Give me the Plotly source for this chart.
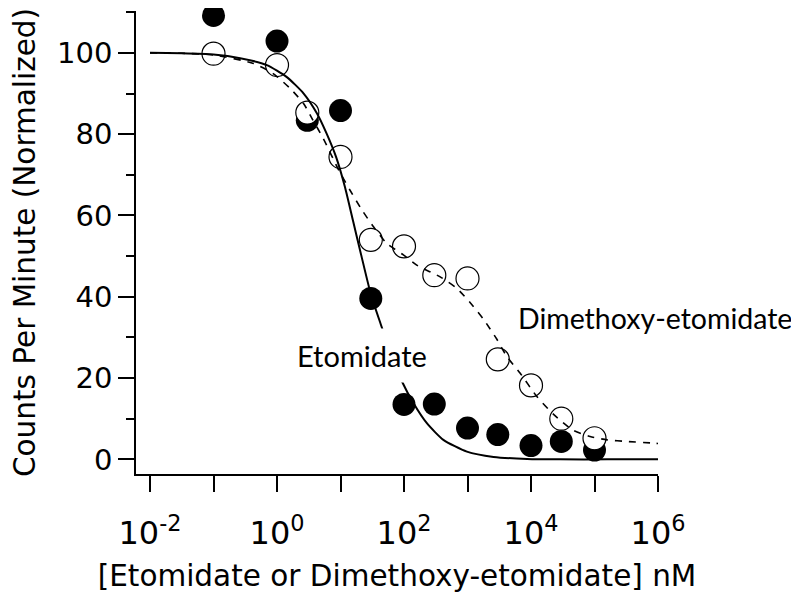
import numpy as np
import plotly.graph_objects as go

# Measured data (nM concentration, normalized CPM)
conc_nM = [0.1, 1, 3, 10, 30, 100, 300, 1000, 3000, 10000, 30000, 100000]
etomidate_cpm = [109.2, 102.9, 83.4, 85.8, 39.6, 13.5, 13.6, 7.7, 6.1, 3.4, 4.4, 2.3]
dimethoxy_cpm = [99.8, 97.0, 85.3, 74.4, 54.0, 52.4, 45.3, 44.5, 24.6, 18.2, 10.0, 5.2]

# Fitted curves (log10 concentration, normalized CPM)
etomidate_fit_logx = [-2.0, -1.5, -1.0, -0.58, -0.16, 0.15, 0.42, 0.63, 0.78, 0.93, 1.07,
                      1.20, 1.33, 1.48, 1.65, 1.80, 1.97, 2.15, 2.36, 2.62, 2.99, 3.41,
                      3.94, 4.46, 5.2, 6.0]
etomidate_fit_y = [100.0, 99.9, 99.6, 98.7, 97.0, 94.1, 90.0, 85.1, 80.2, 74.4, 67.0,
                   58.5, 50.0, 40.5, 32.5, 25.5, 19.1, 13.8, 8.9, 4.8, 1.9, 0.6,
                   0.1, 0.0, 0.0, 0.0]
dimethoxy_fit_logx = [-2.0, -1.5, -1.0, -0.37, -0.06, 0.21, 0.42, 0.55, 0.73, 0.97, 1.15,
                      1.34, 1.52, 1.73, 1.99, 2.22, 2.57, 2.83, 3.04, 3.25, 3.46, 3.62,
                      3.83, 4.09, 4.36, 4.65, 4.93, 5.20, 5.51, 5.93, 6.0]
dimethoxy_fit_y = [100.0, 99.9, 99.5, 97.4, 94.9, 91.2, 87.5, 83.9, 78.9, 71.2, 66.2,
                   61.3, 57.2, 53.1, 50.3, 47.6, 44.9, 42.1, 38.6, 34.5, 29.6, 25.3,
                   21.2, 15.5, 11.0, 7.3, 5.6, 4.8, 4.4, 4.0, 3.9]

x_tick_vals = [1e-2, 1e-1, 1e0, 1e1, 1e2, 1e3, 1e4, 1e5, 1e6]
x_tick_text = ["10<sup>-2</sup>", "", "10<sup>0</sup>", "", "10<sup>2</sup>", "",
               "10<sup>4</sup>", "", "10<sup>6</sup>"]
y_tick_vals = [0, 20, 40, 60, 80, 100]

fig = go.Figure()
fig.add_trace(go.Scatter(
    x=conc_nM, y=etomidate_cpm, mode="markers", name="Etomidate", cliponaxis=False,
    marker=dict(symbol="circle", size=23, color="black", line=dict(width=0)),
))
fig.add_trace(go.Scatter(
    x=conc_nM, y=dimethoxy_cpm, mode="markers", name="Dimethoxy-etomidate", cliponaxis=False,
    marker=dict(symbol="circle", size=23, color="white", line=dict(width=1.2, color="black")),
))
fig.add_trace(go.Scatter(
    x=np.power(10.0, etomidate_fit_logx), y=etomidate_fit_y, mode="lines",
    line=dict(color="black", width=2, shape="spline", smoothing=0.6),
))
fig.add_trace(go.Scatter(
    x=np.power(10.0, dimethoxy_fit_logx), y=dimethoxy_fit_y, mode="lines",
    line=dict(color="black", width=1.6, dash="7px,7px", shape="spline", smoothing=0.6),
))

axis_font = "DejaVu Sans"
fig.update_layout(
    width=791, height=595,
    margin=dict(l=128, r=141, t=3, b=129),
    paper_bgcolor="white", plot_bgcolor="white",
    showlegend=False,
    xaxis=dict(
        type="log", range=[-2.2206, 6.0], automargin=False,
        showline=True, linecolor="black", linewidth=1.5,
        ticks="outside", ticklen=16, tickwidth=1.5, tickcolor="black",
        tickvals=x_tick_vals, ticktext=x_tick_text,
        tickfont=dict(family=axis_font, size=32, color="black"),
        ticklabelstandoff=14,
        showgrid=False, zeroline=False,
        title=dict(text="[Etomidate or Dimethoxy-etomidate] nM",
                   font=dict(family=axis_font, size=29.5, color="black"), standoff=14),
    ),
    yaxis=dict(
        range=[-3.6, 110.3], automargin=False,
        showline=True, linecolor="black", linewidth=1.5,
        ticks="outside", ticklen=16, tickwidth=1.5, tickcolor="black",
        tickvals=y_tick_vals,
        minor=dict(dtick=10, tick0=0, ticks="outside", ticklen=8, tickwidth=1.5, tickcolor="black"),
        tickfont=dict(family=axis_font, size=29, color="black"),
        showgrid=False, zeroline=False,
        title=dict(text="Counts Per Minute (Normalized)",
                   font=dict(family=axis_font, size=29.5, color="black"), standoff=34),
    ),
    annotations=[
        dict(x=1.341, y=25.5, xref="x", yref="y", text="Etomidate", showarrow=False,
             font=dict(family="Lato", size=29, color="black"),
             bgcolor="white", borderpad=9),
        dict(x=5.96, y=34.8, xref="x", yref="y", text="Dimethoxy-etomidate", showarrow=False,
             font=dict(family="Lato", size=28.5, color="black")),
    ],
)

fig.write_html("out.html")
